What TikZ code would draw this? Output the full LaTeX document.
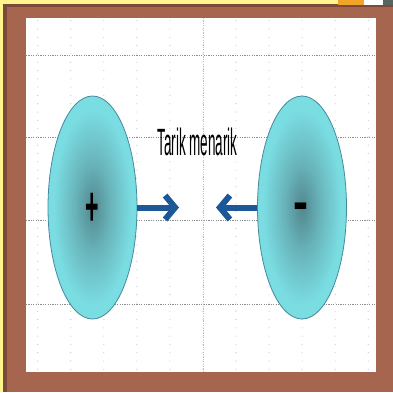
\documentclass[tikz,border=0pt]{standalone}
\usepackage{fontspec}
\setmainfont{Liberation Sans}
\usetikzlibrary{shapes.geometric,arrows.meta}
\definecolor{pad}{RGB}{255,245,140}
\definecolor{frame}{RGB}{166,101,79}
\definecolor{frameshade}{RGB}{122,74,58}
\definecolor{tabA}{RGB}{240,165,40}
\definecolor{tabC}{RGB}{88,100,94}
\definecolor{blobcore}{RGB}{82,136,142}
\definecolor{blobmid}{RGB}{104,180,186}
\definecolor{blobrim}{RGB}{122,221,226}
\definecolor{blobline}{RGB}{70,138,158}
\definecolor{pull}{RGB}{28,88,152}
\pgfdeclareradialshading{blob}{\pgfpoint{0bp}{0bp}}{color(0bp)=(blobcore); color(10bp)=(blobmid); color(22bp)=(blobrim); color(25bp)=(blobrim); color(50bp)=(blobrim)}
\tikzset{
  charge/.style={ellipse,draw=blobline,line width=0.8pt,shading=blob,minimum width=89pt,minimum height=223pt,inner sep=0pt},
  pullarrow/.style={draw=pull,line width=6pt,-{Straight Barb[length=10pt,width=24pt]}},
  griddots/.style={draw=black!25,line width=1.1pt,line cap=round,dash pattern=on 0pt off 8.3pt},
  guide/.style={draw=black!45,line width=0.7pt,dash pattern=on 1.2pt off 1.2pt},
  sign/.style={font=\bfseries\fontsize{55}{55}\selectfont,inner sep=0pt,anchor=base}
}
\begin{document}
\begin{tikzpicture}[x=1pt,y=-1pt]
\useasboundingbox (0,0) rectangle (393,392);
\fill[pad] (0,0) rectangle (393,392);
\fill[frameshade] (3,4) rectangle (393,392);
\fill[frame] (7,6.5) rectangle (393,392);
\fill[tabA] (338,0) rectangle (364,4.5);
\fill[white] (364,0) rectangle (383,4.5);
\fill[tabC] (383,0) rectangle (393,4.5);
\fill[white] (26,18) rectangle (376,372);
\foreach \gx in {0,...,10}
  \draw[griddots] ({37.7+33.05*\gx},20.7) -- ++(0,350);
\draw[guide,draw=black!25] (202.95,18) -- (202.95,372);
\foreach \gy in {55,137.5,220.5,304}
  \draw[guide] (26,\gy) -- (376,\gy);
\coordinate (pullL) at (179,207.5);
\coordinate (pullR) at (216,207.5);
\node[charge] (pos) at (92.5,207.5) {};
\node[charge] (neg) at (302,207.5) {};
\node[sign,xscale=0.42] (posmark) at (92.5,225.3) {+};
\node[sign,xscale=0.82] (negmark) at (301.5,220.3) {-};
\node[font=\fontsize{38}{38}\selectfont,xscale=0.355,anchor=base,inner sep=0pt] (caption) at (197.5,155) {Tarik menarik};
\draw[pullarrow] (pos.east) -- (pullL);
\draw[pullarrow] (neg.west) -- (pullR);
\end{tikzpicture}
\end{document}
